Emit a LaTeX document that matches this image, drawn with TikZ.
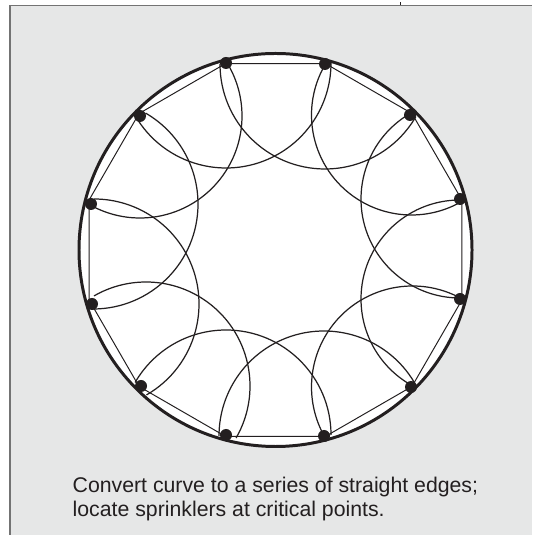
\documentclass[tikz,border=0pt]{standalone}
\usepackage{fontspec}
\setmainfont{Liberation Sans}
\definecolor{fondo}{HTML}{E6E7E7}
\definecolor{tinta}{HTML}{231F20}
\tikzset{
    rociador/.style={circle,fill=tinta,inner sep=0pt,minimum size=0.12cm},
    arco/.style={draw=tinta,line width=0.35pt},
    borde/.style={draw=tinta,line width=0.28pt}
}
\begin{document}
\begin{tikzpicture}
    \useasboundingbox (-2.755,-2.85) rectangle (2.565,2.50);
    % Fondo gris y marco superior e izquierdo
    \fill[fondo] (-2.655,-2.85) rectangle (2.565,2.445);
    \draw[gray!90!black,line width=0.45pt] (-2.655,-2.85) -- (-2.655,2.445) -- (2.565,2.445);
    \draw[tinta,line width=0.2pt] (1.245,2.445) -- (1.245,2.475);
    % Curva exterior
    \draw[tinta,fill=white,line width=0.85pt] (0,0) circle (1.965);
    % Poligono de 12 lados
    \foreach \i in {1,...,12} {
        \coordinate (v\i) at (30*\i-15:1.93);
    }
    \draw[borde] (v1) -- (v2) -- (v3) -- (v4) -- (v5) -- (v6) -- (v7) -- (v8) -- (v9) -- (v10) -- (v11) -- (v12) -- cycle;
    % Arcos de cobertura, uno por rociador
    \foreach \ang/\x/\y/\r in {15/1.845/.51/.99, 45/1.36/1.35/1.00, 75/.495/1.86/1.05, 105/-.495/1.87/1.05,
        135/-1.355/1.34/1.02, 165/-1.825/.46/1.05, 195/-1.815/-.54/1.05, 225/-1.295/-1.36/1.04,
        255/-.495/-1.85/1.05, 285/.485/-1.86/1.05, 315/1.37/-1.37/1.01, 345/1.845/-.49/.99} {
        \draw[arco] (\x,\y) ++(\ang+105:\r) arc[start angle=\ang+105,end angle=\ang+255,radius=\r];
    }
    % Rociadores
    \foreach \ang/\x/\y in {15/1.845/.51, 45/1.345/1.35, 75/.495/1.86, 105/-.495/1.87,
        135/-1.355/1.34, 165/-1.845/.46, 195/-1.835/-.54, 225/-1.345/-1.36,
        255/-.495/-1.85, 285/.485/-1.86, 315/1.355/-1.37, 345/1.845/-.49} {
        \node[rociador] (s\ang) at (\x,\y) {};
    }
    % Texto
    \node[anchor=north west,inner sep=0pt,align=left,text=tinta,font=\fontsize{6.05}{6.8}\selectfont] (nota) at (-2.035,-2.265)
        {Convert curve to a series of straight edges;\\locate sprinklers at critical points.};
\end{tikzpicture}
\end{document}
